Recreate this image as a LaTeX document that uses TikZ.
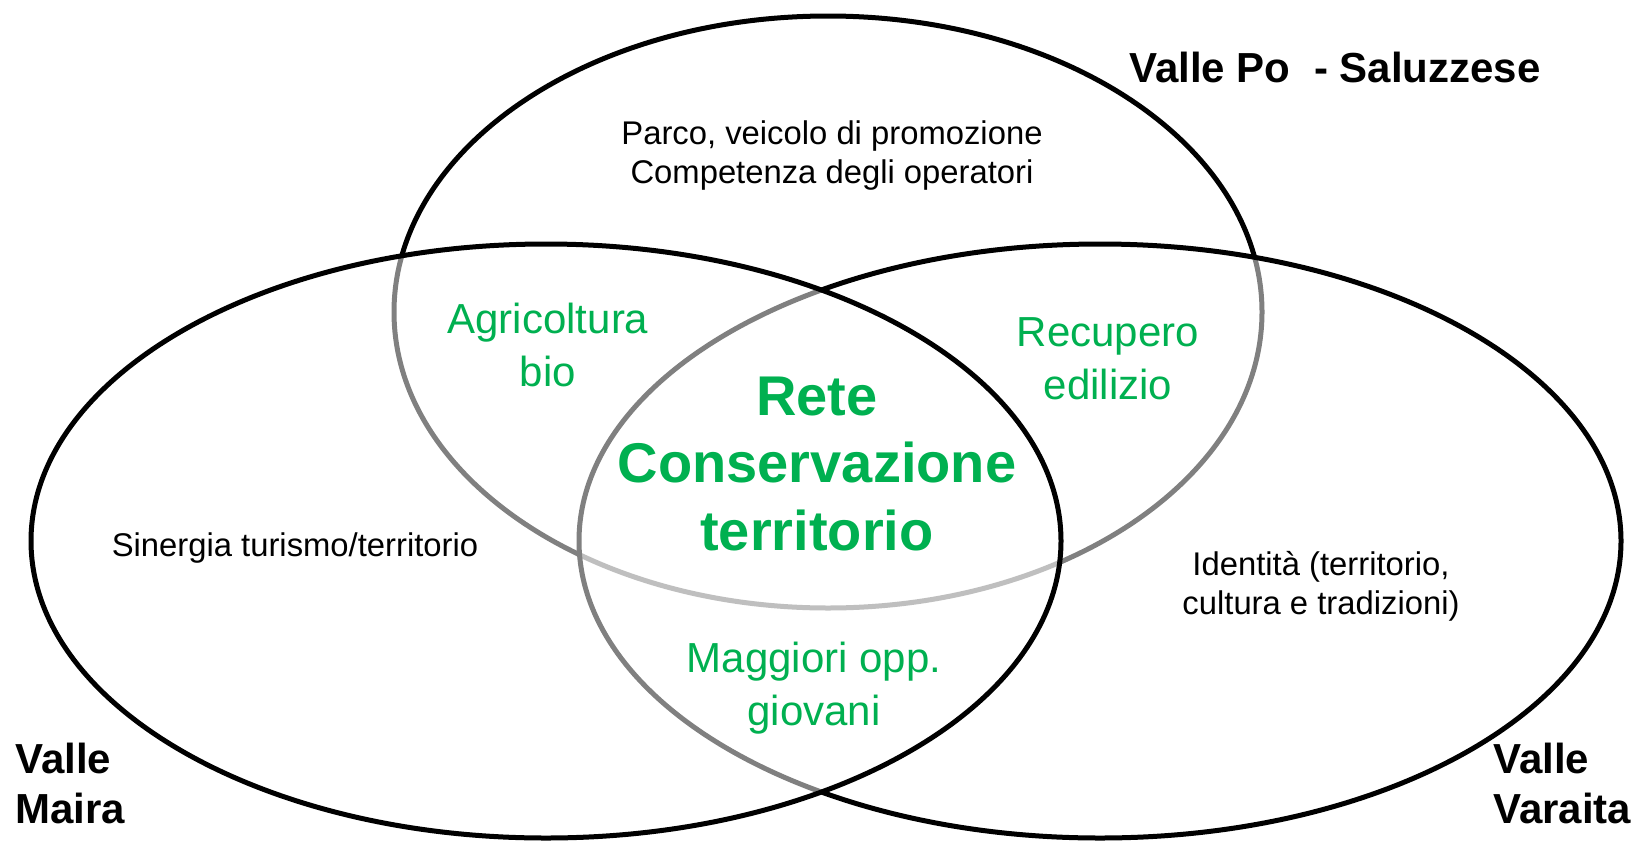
\documentclass[tikz,border=0pt]{standalone}
\usepackage{fontspec}
\setmainfont{Liberation Sans}
\usepackage{xcolor}
\definecolor{zonegreen}{RGB}{0,176,80}
\tikzset{
    venn/.style={
        draw=black,
        line width=2.5pt,
        fill=white,
        fill opacity=0.5
    },
    region/.style={
        align=left,
        inner sep=0pt,
        font=\fontsize{21}{25}\selectfont\bfseries
    },
    note/.style={
        align=center,
        inner sep=0pt,
        font=\fontsize{16.4}{19.5}\selectfont
    },
    zone/.style={
        align=center,
        inner sep=0pt,
        text=zonegreen,
        font=\fontsize{21}{26.5}\selectfont
    },
    core/.style={
        align=center,
        inner sep=0pt,
        text=zonegreen,
        font=\fontsize{28}{33.75}\selectfont\bfseries
    }
}

\begin{document}
\begin{tikzpicture}[x=0.5pt, y=-0.5pt]
        \useasboundingbox (0,0) rectangle (1632,841);
        \draw[venn] (828,312) ellipse [x radius=434, y radius=296];
        \draw[venn] (1100,541) ellipse [x radius=521, y radius=297];
        \draw[venn] (546,541) ellipse [x radius=515, y radius=297];

        \node[region] (po) at (1335,67) {Valle Po\ \ - Saluzzese};
        \node[region, anchor=north west] (maira) at (15,743) {Valle\\Maira};
        \node[region, anchor=north west] (varaita) at (1493,743) {Valle\\Varaita};

        \node[note] (parco) at (832,156) {Parco, veicolo di promozione\\Competenza degli operatori};
        \node[note] (sinergia) at (295,548) {Sinergia turismo/territorio};
        \node[note] (identita) at (1321,586) {Identità (territorio,\\cultura e tradizioni)};

        \node[zone] (agri) at (548,345) {Agricoltura\\bio};
        \node[zone] (recupero) at (1108,359) {Recupero\\edilizio};
        \node[zone] (giovani) at (814,688) {Maggiori opp.\\giovani};
        \node[core] (rete) at (817,464) {Rete\\Conservazione\\territorio};
    \end{tikzpicture}
\end{document}
